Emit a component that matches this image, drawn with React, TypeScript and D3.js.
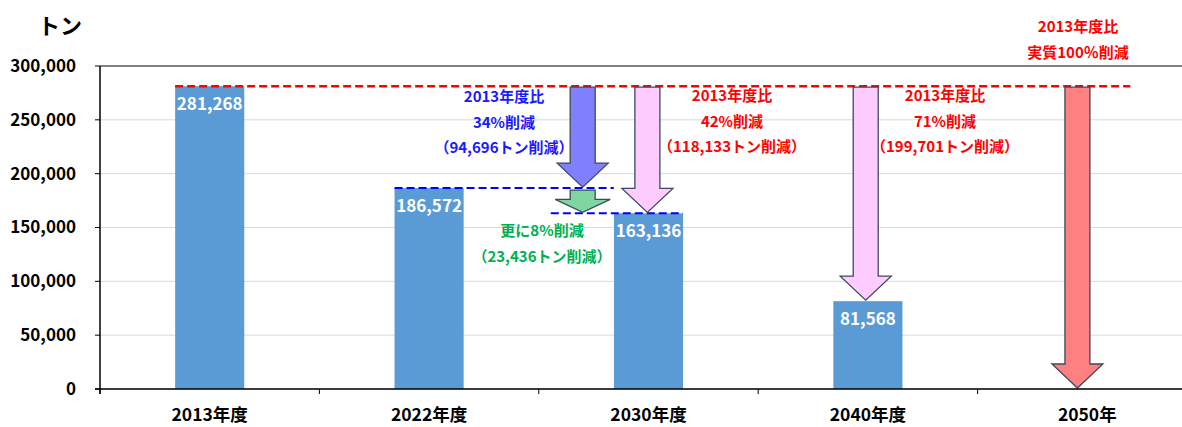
import * as d3 from "d3";

// 年度ごとの排出量（トン）
const categories = ["2013年度", "2022年度", "2030年度", "2040年度", "2050年"];
const emissions: (number | null)[] = [281268, 186572, 163136, 81568, null];
const yTicks = [0, 50000, 100000, 150000, 200000, 250000, 300000];

// 削減矢印: 帯の中の位置(pos), 始点と終点の値
const arrowCats = ["2030年度", "2030年度", "2030年度", "2040年度", "2050年"];
const arrowPos = [0.2, 0.2, 0.495, 0.49, 0.455];
const arrowFrom = [281268, 186572, 281268, 281268, 281268];
const arrowTo = [186572, 163136, 163136, 81568, 0];
const arrowFill = ["#8080ff", "#80d6a0", "#ffccff", "#ffccff", "#ff8080"];

// 注記テキスト
const notes = [
  { lines: ["2013年度比", "34%削減", "（94,696トン削減）"], color: "#1a1aff", x: 504, y: 97 },
  { lines: ["更に8%削減", "（23,436トン削減）"], color: "#00b050", x: 542, y: 231 },
  { lines: ["2013年度比", "42%削減", "（118,133トン削減）"], color: "#ff0000", x: 732, y: 96 },
  { lines: ["2013年度比", "71%削減", "（199,701トン削減）"], color: "#ff0000", x: 945, y: 96 },
  { lines: ["2013年度比", "実質100％削減"], color: "#ff0000", x: 1078, y: 27 },
];

const W = 1182, H = 427;
const left = 100, right = 1197, top = 66, bottom = 389;
const font = "'Noto Sans CJK JP', 'Noto Sans', sans-serif";

export default function App() {
  const x = d3.scaleBand<string>().domain(categories).range([left, right]).padding(0);
  const y = d3.scaleLinear().domain([0, 300000]).range([bottom, top]);
  const bw = x.bandwidth() * 0.315;
  const cx = (c: string) => (x(c) as number) + x.bandwidth() / 2;
  const fmt = d3.format(",");

  const arrowPath = (cxp: number, y0: number, y1: number, sw: number, hw: number, hh: number) =>
    `M${cxp - sw},${y0} L${cxp + sw},${y0} L${cxp + sw},${y1 - hh} L${cxp + hw},${y1 - hh} L${cxp},${y1} L${cxp - hw},${y1 - hh} L${cxp - sw},${y1 - hh} Z`;

  const base = emissions[0] as number;

  return (
    <svg width={W} height={H} style={{ position: "absolute", left: 0, top: 0, fontFamily: font }}>
      <rect width={W} height={H} fill="#fff" />
      {/* grid */}
      {yTicks.map((t) => (
        <line key={t} x1={left} x2={right} y1={y(t)} y2={y(t)}
          stroke={t === 300000 ? "#595959" : "#d9d9d9"} strokeWidth={t === 300000 ? 1.5 : 1} />
      ))}
      {/* bars */}
      {categories.map((c, i) => emissions[i] == null ? null : (
        <g key={c}>
          <rect x={cx(c) - bw / 2} y={y(emissions[i] as number)} width={bw}
            height={bottom - y(emissions[i] as number)} fill="#5b9bd5" />
          <text x={cx(c)} y={y(emissions[i] as number) + 24} textAnchor="middle" fill="#fff"
            fontSize={17} fontWeight="bold">{fmt(emissions[i] as number)}</text>
        </g>
      ))}
      {/* baseline dashes */}
      <line x1={cx(categories[0]) - bw / 2} x2={cx(categories[4]) + 43} y1={y(base)} y2={y(base)}
        stroke="#ff0000" strokeWidth={2.5} strokeDasharray="8,4" />
      <line x1={cx(categories[1]) - bw / 2} x2={(x(categories[2]) as number) + 75} y1={y(emissions[1] as number)} y2={y(emissions[1] as number)}
        stroke="#0000ff" strokeWidth={2} strokeDasharray="8,4" />
      <line x1={(x(categories[2]) as number) + 12} x2={cx(categories[2]) + bw / 2} y1={y(emissions[2] as number)} y2={y(emissions[2] as number)}
        stroke="#0000ff" strokeWidth={2} strokeDasharray="8,4" />
      {/* arrows */}
      {arrowCats.map((c, i) => {
        const ax = (x(c) as number) + arrowPos[i] * x.bandwidth();
        const y0 = y(arrowFrom[i]) + 1, y1 = y(arrowTo[i]) - 1;
        const d = i === 1 ? arrowPath(ax, y0 + 1, y1, 12.5, 27.5, 13) : arrowPath(ax, y0, y1, 12.5, 25.5, 24);
        return <path key={i} d={d} fill={arrowFill[i]} stroke="#3b4a5e" strokeWidth={1.3} />;
      })}
      {/* axes */}
      <line x1={left} x2={left} y1={top} y2={bottom + 5} stroke="#000" strokeWidth={1.5} />
      <line x1={left - 5} x2={right} y1={bottom} y2={bottom} stroke="#000" strokeWidth={1.5} />
      {yTicks.map((t) => (
        <g key={"t" + t}>
          <line x1={left - 5} x2={left} y1={y(t)} y2={y(t)} stroke="#000" />
          <text x={76} y={y(t)} dy="0.35em" textAnchor="end" fontSize={17} fontWeight="bold" fill="#000">{fmt(t)}</text>
        </g>
      ))}
      {categories.map((c) => (
        <g key={"c" + c}>
          <line x1={x(c) as number} x2={x(c) as number} y1={bottom} y2={bottom + 5} stroke="#000" />
          <text x={cx(c)} y={415} dy="0.35em" textAnchor="middle" fontSize={17.5} fontWeight="bold" fill="#000">{c}</text>
        </g>
      ))}
      <text x={38} y={26} dy="0.35em" fontSize={22} fontWeight="bold" fill="#000">トン</text>
      {/* notes */}
      {notes.map((n, i) => (
        <g key={"n" + i}>
          {n.lines.map((l, j) => (
            <text key={j} x={n.x} y={n.y + j * 25.5} dy="0.35em" textAnchor="middle" fontSize={15}
              fontWeight="bold" fill={n.color}>{l}</text>
          ))}
        </g>
      ))}
    </svg>
  );
}
